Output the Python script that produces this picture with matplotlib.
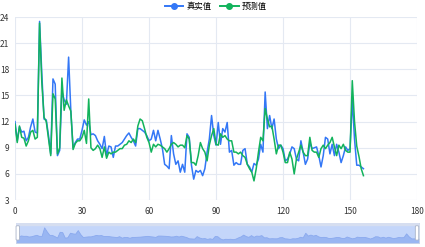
import matplotlib.pyplot as plt
from matplotlib.lines import Line2D
from matplotlib.patches import FancyBboxPatch, Rectangle

plt.rcParams['font.family'] = ['Noto Sans CJK SC', 'DejaVu Sans']

# data
real = [12.0, 9.8, 11.4, 10.8, 10.9, 9.8, 10.2, 11.4, 12.3, 10.8,
        10.7, 23.5, 17.5, 12.3, 12.2, 10.4, 8.3, 16.9, 16.3, 8.1,
        8.7, 15.5, 14.5, 14.0, 19.4, 13.2, 9.0, 9.6, 10.0, 10.0,
        11.0, 12.2, 11.6, 12.0, 10.5, 10.6, 10.4, 9.8, 9.4, 8.9,
        10.3, 8.1, 9.2, 9.1, 7.9, 9.2, 9.2, 9.4, 9.6, 10.0,
        10.4, 10.7, 10.2, 9.8, 9.2, 11.2, 11.2, 11.0, 10.8, 10.4,
        9.8, 10.0, 11.0, 9.8, 11.0, 10.0, 8.9, 7.1, 6.9, 6.6,
        10.4, 8.3, 7.1, 7.5, 6.2, 7.1, 6.2, 10.6, 10.2, 7.0,
        5.4, 6.4, 6.2, 6.4, 5.8, 6.6, 8.5, 10.0, 12.7, 10.4,
        9.3, 11.9, 9.4, 11.2, 10.8, 11.9, 8.5, 8.7, 7.0, 7.3,
        7.1, 7.1, 8.7, 8.9, 7.1, 6.8, 6.2, 7.2, 7.0, 7.7,
        9.4, 8.5, 15.4, 11.2, 12.7, 11.2, 12.3, 10.0, 8.9, 9.3,
        8.9, 7.5, 7.7, 8.3, 9.1, 8.9, 7.7, 7.5, 9.8, 8.5,
        7.1, 7.7, 9.6, 8.9, 9.0, 9.1, 8.1, 6.8, 8.1, 10.2,
        10.0, 8.3, 9.4, 8.1, 9.4, 8.5, 7.3, 8.1, 9.1, 8.7,
        8.9, 14.5, 10.0, 7.0, 7.0, 6.8, 6.6]
pred = [11.7, 9.6, 11.5, 10.2, 10.1, 9.2, 9.8, 10.8, 11.0, 10.0,
        10.2, 23.3, 16.5, 12.5, 12.0, 10.0, 8.1, 15.2, 14.6, 8.3,
        9.0, 17.0, 13.3, 14.5, 13.8, 13.2, 8.8, 9.5, 9.8, 9.8,
        10.2, 11.0, 9.5, 14.6, 9.0, 8.7, 8.9, 9.3, 8.9, 7.9,
        9.1, 7.8, 8.5, 8.3, 8.5, 8.5, 8.7, 8.9, 8.9, 9.3,
        9.4, 9.8, 9.6, 10.0, 9.6, 11.5, 12.3, 12.1, 11.2, 10.2,
        9.6, 8.5, 9.4, 9.1, 9.4, 9.3, 9.1, 8.9, 8.5, 8.9,
        9.4, 9.6, 9.4, 9.1, 9.3, 9.3, 9.0, 10.4, 10.0, 7.3,
        7.3, 7.0, 8.1, 9.6, 8.9, 8.5, 7.5, 9.3, 10.4, 11.2,
        9.4, 9.3, 10.6, 10.2, 10.4, 10.0, 9.8, 9.8, 8.5, 8.5,
        8.3, 8.5, 8.1, 7.9, 7.1, 6.6, 6.2, 5.2, 6.6, 8.5,
        10.2, 9.8, 13.5, 12.3, 11.4, 11.5, 10.0, 8.3, 9.3, 9.3,
        8.5, 7.3, 7.3, 8.5, 7.7, 6.0, 7.7, 8.5, 9.3, 8.5,
        8.1, 8.1, 10.2, 8.7, 8.5, 8.5, 7.9, 8.9, 9.3, 8.9,
        9.3, 9.6, 10.2, 9.1, 8.1, 9.3, 8.9, 9.4, 8.7, 8.5,
        8.5, 16.7, 12.0, 9.2, 8.0, 6.6, 5.8]
x = list(range(len(real)))

blue = '#3377f6'
green = '#12b35c'
grid = '#e4e9f2'

fig = plt.figure(figsize=(4.25, 2.47), dpi=100)
ax = fig.add_axes([0.0353, 0.19, 0.946, 0.741])
ax.plot(x, real, color=blue, lw=1.1, zorder=3)
ax.plot(x, pred, color=green, lw=1.1, zorder=4)
ax.set_xlim(0, 180)
ax.set_ylim(3, 24)
ax.set_xticks(range(0, 181, 30))
ax.set_yticks(range(3, 25, 3))
ax.grid(True, color=grid, lw=0.8)
ax.set_axisbelow(True)
for s in ax.spines.values():
    s.set_visible(False)
ax.tick_params(length=0, labelsize=6, colors='#333333')
ax.tick_params(axis='y', pad=4)
ax.tick_params(axis='x', pad=5)

handles = [Line2D([], [], color=blue, lw=1.4, marker='o', markersize=4),
           Line2D([], [], color=green, lw=1.4, marker='o', markersize=4)]
ax.legend(handles, ['真实值', '预测值'], loc='lower center', bbox_to_anchor=(0.5, 1.0),
          ncol=2, frameon=False, fontsize=6, handlelength=2.2, columnspacing=1.0,
          handletextpad=0.4, borderaxespad=0.3)

# data zoom slider at the bottom
sl = fig.add_axes([0.037, 0.016, 0.949, 0.081])
sl.set_xlim(0, len(real) - 1)
sl.set_ylim(0, 30)
sl.set_facecolor('#c4d6fa')
sl.fill_between(x, 0, real, color='#99b6f2', lw=0.6, edgecolor='#8aa9ee')
sl.add_patch(Rectangle((0, 27), len(real) - 1, 3, color='#d6def0', zorder=5))
for s in sl.spines.values():
    s.set_color('#cfd8ea')
    s.set_linewidth(0.6)
sl.set_xticks([])
sl.set_yticks([])
for hx in (0.005, 0.995):
    fig.patches.append(FancyBboxPatch((0.037 + 0.949 * hx - 0.004, 0.028), 0.008, 0.058,
                                      boxstyle='round,pad=0,rounding_size=0.003',
                                      transform=fig.transFigure, facecolor='white',
                                      edgecolor='#aab4c8', lw=0.6, zorder=10))

fig.savefig('out.png', dpi=100)
